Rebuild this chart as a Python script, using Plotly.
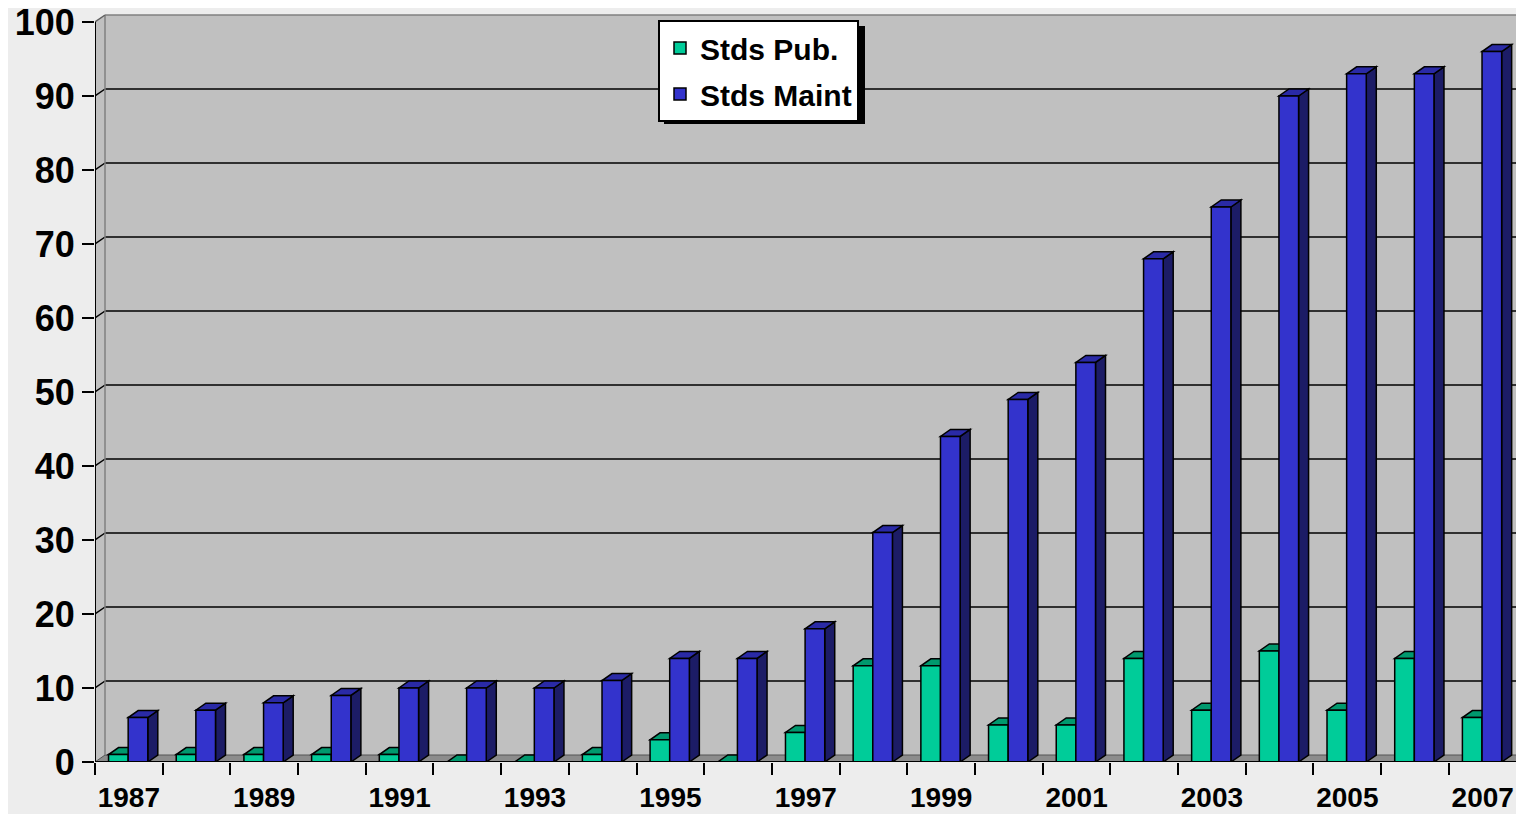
import plotly.graph_objects as go

# ---------------- data ----------------
years = list(range(1987, 2008))
stds_pub = [1, 1, 1, 1, 1, 0, 0, 1, 3, 0, 4, 13, 13, 5, 5, 14, 7, 15, 7, 14, 6]
stds_maint = [6, 7, 8, 9, 10, 10, 10, 11, 14, 14, 18, 31, 44, 49, 54, 68, 75, 90, 93, 93, 96]
y_ticks = list(range(0, 101, 10))
x_label_years = years[::2]

# ---------------- geometry ----------------
OFFSET = 8  # page body margin in the browser
W, H = 1524 - OFFSET, 814 - OFFSET
ML, MR, MT, MB = 95 - OFFSET, 0, 14 - OFFSET, 52
XMAX = 21.11
YMAX = 101.08
PW = W - ML - MR
PH = H - MT - MB
XU = PW / XMAX
YU = PH / YMAX
DX = 10 / XU   # depth offset in x units
DY = 7 / YU    # depth offset in y units
NCAT = len(years)
xpos = [y - years[0] for y in years]

FONT = "Arial, Liberation Sans, sans-serif"
GREEN, GREEN_TOP, GREEN_SIDE = "#00CC99", "#00996E", "#007A58"
BLUE, BLUE_TOP, BLUE_SIDE = "#3333CC", "#2A2AA6", "#1C1C66"
BAR_W = 0.29
series = [
    ("Stds Pub.", stds_pub, 0.20, GREEN, GREEN_TOP, GREEN_SIDE),
    ("Stds Maint", stds_maint, 0.49, BLUE, BLUE_TOP, BLUE_SIDE),
]

shapes = []
# back wall, left wall, floor
shapes.append(dict(type="path", xref="x", yref="y", layer="below",
                   path=f"M{DX},{DY} L{XMAX+1},{DY} L{XMAX+1},{100+DY} L{DX},{100+DY} Z",
                   fillcolor="#C0C0C0", line=dict(width=0)))
shapes.append(dict(type="path", xref="x", yref="y", layer="below",
                   path=f"M0,0 L{DX},{DY} L{DX},{100+DY} L0,100 Z",
                   fillcolor="#C0C0C0", line=dict(width=0)))
shapes.append(dict(type="path", xref="x", yref="y", layer="below",
                   path=f"M0,0 L{NCAT},0 L{NCAT+DX},{DY} L{DX},{DY} Z",
                   fillcolor="#8C8C8C", line=dict(color="#555555", width=1)))
# gridlines on walls
for v in y_ticks[1:-1]:
    shapes.append(dict(type="line", xref="x", yref="y", layer="below",
                       x0=0, y0=v, x1=DX, y1=v + DY, line=dict(color="black", width=1.5)))
    shapes.append(dict(type="line", xref="x", yref="y", layer="below",
                       x0=DX, y0=v + DY, x1=XMAX + 1, y1=v + DY, line=dict(color="black", width=1.5)))
# wall edges
shapes.append(dict(type="line", xref="x", yref="y", layer="below",
                   x0=DX, y0=DY, x1=DX, y1=100 + DY, line=dict(color="#808080", width=1.5)))
shapes.append(dict(type="line", xref="x", yref="y", layer="below",
                   x0=DX, y0=100 + DY, x1=XMAX + 1, y1=100 + DY, line=dict(color="#808080", width=1.5)))
shapes.append(dict(type="line", xref="x", yref="y", layer="below",
                   x0=0, y0=100, x1=DX, y1=100 + DY, line=dict(color="#606060", width=1.5)))

# 3D tops and sides of bars (computed from data)
for name, vals, off, cf, ct, cs in series:
    for xi, v in zip(xpos, vals):
        x0 = xi + off
        x1 = x0 + BAR_W
        shapes.append(dict(type="path", xref="x", yref="y", layer="between",
                           path=f"M{x1},0 L{x1},{v} L{x1+DX},{v+DY} L{x1+DX},{DY} Z",
                           fillcolor=cs, line=dict(color="black", width=1.5)))
        shapes.append(dict(type="path", xref="x", yref="y", layer="between",
                           path=f"M{x0},{v} L{x1},{v} L{x1+DX},{v+DY} L{x0+DX},{v+DY} Z",
                           fillcolor=ct, line=dict(color="black", width=1.5)))

# front axis lines
shapes.append(dict(type="line", xref="x", yref="y", layer="above",
                   x0=0, y0=0, x1=0, y1=100, line=dict(color="black", width=2)))
shapes.append(dict(type="line", xref="x", yref="y", layer="above",
                   x0=0, y0=0, x1=NCAT, y1=0, line=dict(color="black", width=2)))
shapes.append(dict(type="line", xref="x", yref="y", layer="above",
                   x0=NCAT, y0=0, x1=NCAT + DX, y1=DY, line=dict(color="black", width=1.5)))

# pixel (window) -> paper conversion
def px_to_paper_x(px):
    return (px - OFFSET - ML) / PW
def px_to_paper_y(py):
    return (H - MB - (py - OFFSET)) / PH

# legend shadow
shapes.append(dict(type="rect", xref="paper", yref="paper", layer="above",
                   x0=px_to_paper_x(664), x1=px_to_paper_x(865),
                   y0=px_to_paper_y(124), y1=px_to_paper_y(26),
                   fillcolor="black", line=dict(width=0)))

fig = go.Figure()
for name, vals, off, cf, ct, cs in series:
    fig.add_trace(go.Bar(
        x=xpos, y=vals, width=BAR_W, offset=off, name=name, legendgroup=name,
        marker=dict(color=cf, line=dict(color="black", width=1.5)),
        hoverinfo="x+y",
    ))

fig.update_layout(
    width=W, height=H,
    margin=dict(l=ML, r=MR, t=MT, b=MB, autoexpand=False),
    paper_bgcolor="#EDEDED",
    plot_bgcolor="rgba(0,0,0,0)",
    barmode="overlay",
    shapes=shapes,
    showlegend=True,
    legend=dict(
        x=px_to_paper_x(658), y=px_to_paper_y(20), xanchor="left", yanchor="top",
        bgcolor="white", bordercolor="black", borderwidth=2,
        font=dict(family=FONT, size=30, color="black", weight="bold"),
        traceorder="grouped", tracegroupgap=4,
    ),
    xaxis=dict(
        range=[0, XMAX], showgrid=False, zeroline=False, showline=False,
        automargin=False,
        tickmode="array", tickvals=[x + 0.5 for x in xpos[::2]],
        ticktext=[str(y) for y in x_label_years],
        ticks="outside", ticklen=10, tickcolor="rgba(0,0,0,0)",
        tickfont=dict(family=FONT, size=28, color="black", weight="bold"),
        minor=dict(tickmode="array", tickvals=list(range(NCAT + 1)), ticks="outside",
                   ticklen=12, tickwidth=2, tickcolor="black", showgrid=False),
        ticklabeloverflow="allow",
        fixedrange=True,
    ),
    yaxis=dict(
        range=[0, YMAX], showgrid=False, zeroline=False, showline=False,
        automargin=False,
        tickmode="array", tickvals=y_ticks,
        ticks="outside", ticklen=12, tickwidth=2, tickcolor="black",
        tickfont=dict(family=FONT, size=36, color="black", weight="bold"),
        ticklabeloverflow="allow",
        fixedrange=True,
    ),
)

fig.write_html("out.html")
